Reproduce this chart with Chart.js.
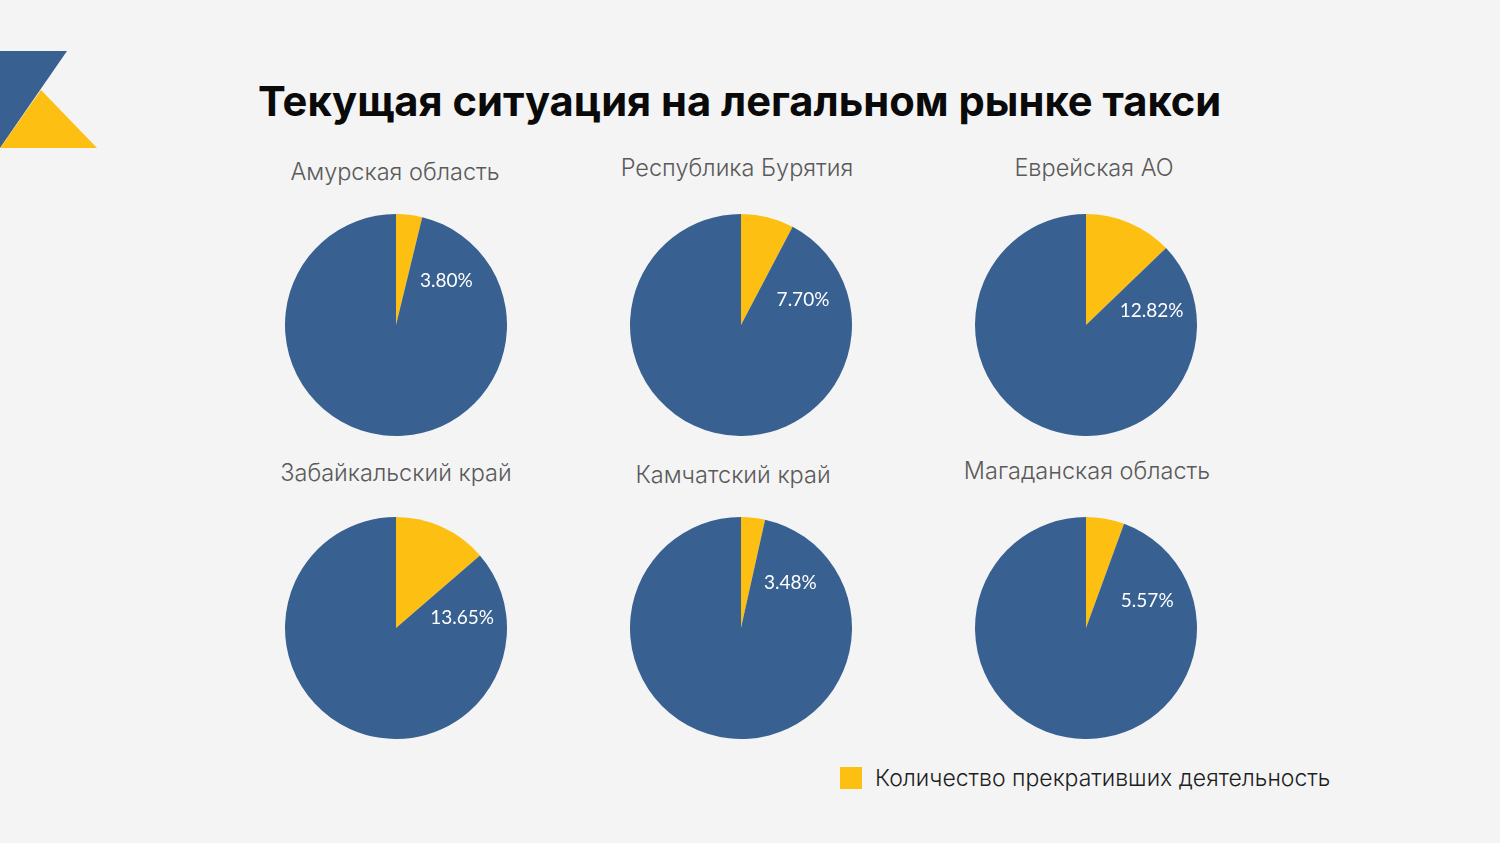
<!DOCTYPE html>
<html>
<head>
<meta charset="utf-8">
<script src="https://cdn.jsdelivr.net/npm/chart.js@4"></script>
<style>
    body {
        margin: 0;
        width: 1500px;
        height: 843px;
        background: #f4f4f4;
        position: relative;
        overflow: hidden;
        font-family: 'Inter', 'Roboto', sans-serif;
    }

    .logo {
        position: absolute;
        left: 0;
        top: 0;
    }

    .heading {
        position: absolute;
        left: 258px;
        top: 76px;
        font-size: 41.7px;
        font-weight: 700;
        color: #0a0a0a;
        white-space: nowrap;
    }

    .pieBox {
        position: absolute;
        width: 222px;
        height: 222px;
    }

    .pieTitle {
        position: absolute;
        width: 400px;
        margin-left: -200px;
        text-align: center;
        font-size: 23.5px;
        font-weight: 300;
        color: #5a5a5a;
        white-space: nowrap;
    }

    .legend {
        position: absolute;
        left: 840px;
        top: 764px;
        display: flex;
        align-items: center;
        font-size: 23px;
        font-weight: 300;
        color: #1e1e1e;
    }

    .legendBox {
        width: 22px;
        height: 22px;
        background: #fdbf12;
        margin-right: 13px;
    }
</style>
</head>
<body>
<svg class="logo" width="100" height="150">
    <polygon points="0,51 67,51 0,148" fill="#386192"></polygon>
    <polygon points="41,90 97,148 0,148" fill="#fdbf12"></polygon>
</svg>
<div class="heading">Текущая ситуация на легальном рынке такси</div>
<div id="pies"></div>
<div class="legend"><div class="legendBox"></div><span id="legendText"></span></div>

<script>
const regions = ['Амурская область', 'Республика Бурятия', 'Еврейская АО', 'Забайкальский край', 'Камчатский край', 'Магаданская область'];
const stoppedShare = [3.80, 7.70, 12.82, 13.65, 3.48, 5.57];
const legendLabel = 'Количество прекративших деятельность';

const YELLOW = '#fdbf12';
const BLUE = '#386192';

/* layout of the 2x3 grid */
const centersX = [396, 741, 1086, 396, 741, 1086];
const centersY = [325, 325, 325, 628, 628, 628];
const titleTops = [157, 153, 153, 458, 460, 456];
const titleShift = [-1, -4, 8, 0, -8, 1];
const labelTurn = [35, 40, 32, 32, 35, 46];


/* value label placed a bit past the end of the yellow slice */
const shareLabelPlugin = {
    id: 'shareLabel',
    afterDatasetsDraw(chart) {
        const arc = chart.getDatasetMeta(0).data[0];
        const ctx = chart.ctx;
        const angle = arc.endAngle + chart.options.plugins.shareLabel.turn * Math.PI / 180;
        const x = arc.x + Math.cos(angle) * 67;
        const y = arc.y + Math.sin(angle) * 67;
        ctx.save();
        ctx.fillStyle = '#ffffff';
        ctx.font = '19px Lato, "Open Sans", sans-serif';
        ctx.textAlign = 'center';
        ctx.textBaseline = 'middle';
        ctx.fillText(chart.data.datasets[0].data[0].toFixed(2) + '%', x, y);
        ctx.restore();
    }
};


function createPie(i) {
    let box = document.createElement('div');
    box.className = 'pieBox';
    box.style.left = (centersX[i] - 111) + 'px';
    box.style.top = (centersY[i] - 111) + 'px';
    box.innerHTML = `<canvas id="pie${i}" width="222" height="222"></canvas>`;
    document.getElementById('pies').appendChild(box);

    let title = document.createElement('div');
    title.className = 'pieTitle';
    title.style.left = (centersX[i] + titleShift[i]) + 'px';
    title.style.top = titleTops[i] + 'px';
    title.textContent = regions[i];
    document.getElementById('pies').appendChild(title);

    new Chart(document.getElementById(`pie${i}`), {
        type: 'pie',
        data: {
            labels: [legendLabel, 'Прочие'],
            datasets: [{
                data: [stoppedShare[i], 100 - stoppedShare[i]],
                backgroundColor: [YELLOW, BLUE],
                borderWidth: 0
            }]
        },
        options: {
            responsive: false,
            animation: false,
            layout: { padding: 0 },
            plugins: {
                legend: { display: false },
                tooltip: { enabled: false },
                shareLabel: { turn: labelTurn[i] }
            }
        },
        plugins: [shareLabelPlugin]
    });
}


document.getElementById('legendText').textContent = legendLabel;
for (let i = 0; i < regions.length; i++) {
    createPie(i);
}
</script>
</body>
</html>
